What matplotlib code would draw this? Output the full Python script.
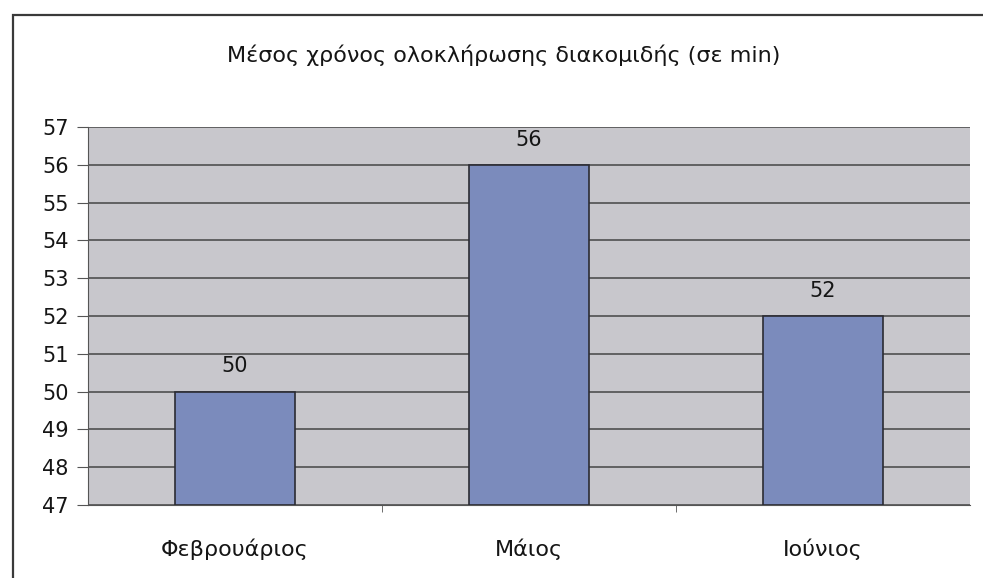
#!/usr/bin/env python3
import matplotlib
matplotlib.use("Agg")
import matplotlib.pyplot as plt
from matplotlib.patches import Rectangle

months = ["Φεβρουάριος", "Μάιος", "Ιούνιος"]
minutes = [50, 56, 52]
y_ticks = list(range(47, 58))

TITLE = "Μέσος χρόνος ολοκλήρωσης διακομιδής (σε min)"
BAR_COLOR = "#7b8bbc"
PLOT_BG = "#c8c7cc"
GRID_COLOR = "#454545"
TEXT_COLOR = "#151515"

plt.rcParams["font.family"] = ["DejaVu Sans"]

fig = plt.figure(figsize=(9.83, 5.78), dpi=100)
fig.patch.set_facecolor("white")

# outer chart box, only its top and left edges fall inside the image
fig.add_artist(Rectangle((13 / 983, -0.05), 1.1, (578 - 15) / 578 + 0.05,
                         transform=fig.transFigure, fill=False,
                         edgecolor="#3a3a3a", linewidth=1.6))

ax = fig.add_axes([88 / 983, 1 - 505 / 578, (970 - 88) / 983, (505 - 127) / 578])
ax.set_facecolor(PLOT_BG)

x = range(len(months))
ax.bar(x, [v - 47 for v in minutes], bottom=47, width=0.41,
       color=BAR_COLOR, edgecolor="#2b2b33", linewidth=1.2, zorder=3)

for xi, v in zip(x, minutes):
    ax.annotate(str(v), (xi, v), xytext=(0, 11), textcoords="offset points",
                ha="center", va="bottom", fontsize=15, color=TEXT_COLOR)

ax.set_xlim(-0.5, len(months) - 0.5)
ax.set_ylim(47, 57)
ax.set_yticks(y_ticks)
ax.set_yticklabels([str(t) for t in y_ticks])
ax.yaxis.grid(True, color=GRID_COLOR, linewidth=1.1, zorder=1)
ax.set_axisbelow(True)

ax.set_xticks(range(len(months)))
ax.set_xticklabels(months)
ax.set_xticks([0.5, 1.5], minor=True)
ax.tick_params(axis="x", which="major", length=0, pad=24, labelsize=16,
               labelcolor=TEXT_COLOR)
ax.tick_params(axis="x", which="minor", length=5, color="#555555", direction="out")
ax.tick_params(axis="y", length=8, color="#555555", labelsize=15, pad=6,
               labelcolor=TEXT_COLOR)

for side in ("top", "right"):
    ax.spines[side].set_visible(False)
ax.spines["left"].set_color("#555555")
ax.spines["bottom"].set_color("#555555")

fig.text(504 / 983, 1 - 55 / 578, TITLE, ha="center", va="center",
         fontsize=16, color=TEXT_COLOR)

fig.savefig("out.png", dpi=100)
